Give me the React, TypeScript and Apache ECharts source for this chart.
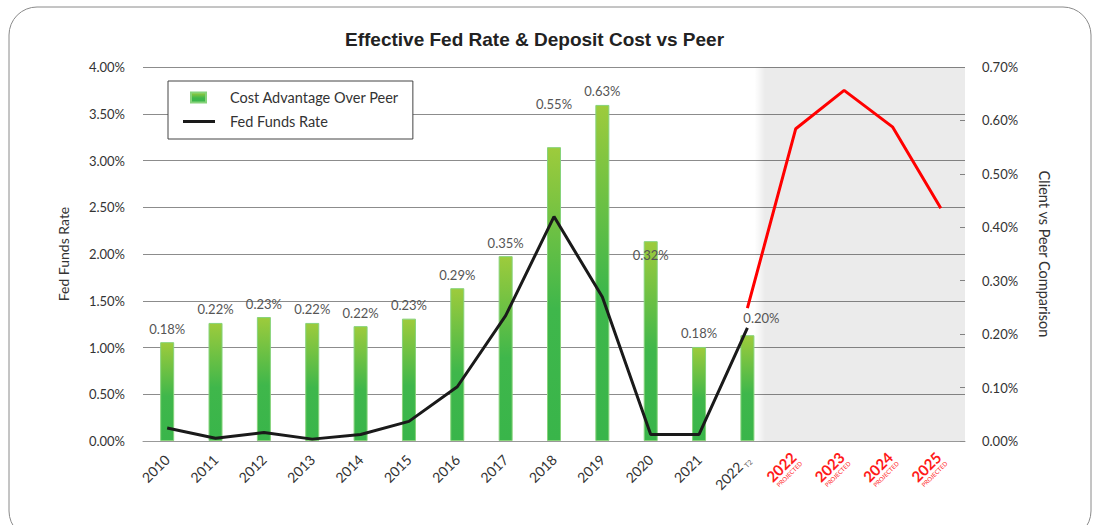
import React, { useEffect, useRef } from "react";
import * as echarts from "echarts";

const years = ["2010", "2011", "2012", "2013", "2014", "2015", "2016", "2017", "2018", "2019", "2020", "2021", "2022", "2022", "2023", "2024", "2025"];
const actualCount = 13;
const costAdvantage = [0.185, 0.221, 0.232, 0.221, 0.215, 0.229, 0.286, 0.346, 0.55, 0.629, 0.374, 0.176, 0.198, null, null, null, null];
const costLabels = ["0.18%", "0.22%", "0.23%", "0.22%", "0.22%", "0.23%", "0.29%", "0.35%", "0.55%", "0.63%", "0.32%", "0.18%", "0.20%"];
const fedFunds = [0.14, 0.03, 0.09, 0.02, 0.07, 0.21, 0.58, 1.34, 2.4, 1.54, 0.07, 0.07, 1.21, null, null, null, null];
const fedProjected = [null, null, null, null, null, null, null, null, null, null, null, null, 1.42, 3.34, 3.75, 3.36, 2.49];
const leftTicks = { min: 0, max: 4, interval: 0.5 };
const rightTicks = { min: 0, max: 0.7, interval: 0.1 };
const projectedStart = 12.65;

const FONT = "Lato";

export default function App() {
  const ref = useRef<HTMLDivElement>(null);
  useEffect(() => {
    if (!ref.current) return;
    const chart = echarts.init(ref.current, null, { renderer: "svg" });
    const labelOffsets: Record<number, number[]> = { 8: [0, -30], 10: [0, 27], 12: [14, -4] };
    const barGradient = new echarts.graphic.LinearGradient(0, 0, 0, 1, [
      { offset: 0, color: "#9dcb3c" },
      { offset: 0.55, color: "#3fb74b" },
      { offset: 1, color: "#39b54a" },
    ]);
    const barData = costAdvantage.map((v, i) => {
      if (v == null) return null;
      const item: any = { value: v };
      if (labelOffsets[i]) item.label = { offset: labelOffsets[i] };
      return item;
    });
    const option: any = {
      animation: false,
      backgroundColor: "#ffffff",
      title: {
        text: "Effective Fed Rate & Deposit Cost vs Peer",
        left: 340,
        top: 25,
        textStyle: { fontFamily: "Liberation Sans", fontSize: 19, fontWeight: "bold", color: "#222" },
      },
      graphic: [
        {
          type: "rect",
          silent: true,
          z: -10,
          shape: { x: 9, y: 7, width: 1082, height: 532, r: 28 },
          style: { fill: "none", stroke: "#8a8a8a", lineWidth: 1 },
        },
      ],
      legend: {
        orient: "vertical",
        left: 168,
        top: 81,
        padding: [9, 14, 10, 14],
        itemGap: 9,
        itemWidth: 42,
        itemHeight: 10,
        backgroundColor: "#ffffff",
        borderColor: "#444",
        borderWidth: 1,
        borderRadius: 0,
        textStyle: { fontFamily: FONT, fontSize: 14.5, color: "#333" },
        data: [
          { name: "Cost Advantage Over Peer", icon: "path://M0,0M42,10M8,0L23,0L23,10L8,10Z" },
          {
            name: "Fed Funds Rate",
            icon: "path://M0,0M42,10M0,3.5L32,3.5L32,6.5L0,6.5Z",
            itemStyle: { color: "#1a1a1a", borderWidth: 0 },
            lineStyle: { width: 0 },
          },
        ],
      },
      grid: { left: 143, right: 135, top: 67, bottom: 84 },
      xAxis: [
        {
          type: "category",
          data: years,
          boundaryGap: true,
          axisLine: { lineStyle: { color: "#999" } },
          axisTick: { show: false },
          axisLabel: {
            interval: 0,
            rotate: 45,
            margin: 16,
            fontFamily: FONT,
            formatter: (v: string, i: number) => {
              if (i === actualCount - 1) return "{n|" + v + "}{t|T2}";
              if (i >= actualCount) return "{py|" + v + "}\n{ps|PROJECTED}";
              return "{n|" + v + "}";
            },
            rich: {
              n: { fontFamily: FONT, fontSize: 14, color: "#333" },
              t: { fontFamily: FONT, fontSize: 7, color: "#666", padding: [10, 0, 0, 2] },
              py: { fontFamily: FONT, fontSize: 15, fontWeight: "bold", color: "#ff1a1a", lineHeight: 15 },
              ps: { fontFamily: FONT, fontSize: 6, color: "#ff1a1a", lineHeight: 7 },
            },
          },
        },
        { type: "value", min: 0, max: years.length, show: false },
      ],
      yAxis: [
        {
          type: "value",
          min: leftTicks.min,
          max: leftTicks.max,
          interval: leftTicks.interval,
          name: "Fed Funds Rate",
          nameLocation: "middle",
          nameGap: 73,
          nameRotate: 90,
          nameTextStyle: { fontFamily: FONT, fontSize: 14, color: "#333" },
          axisLine: { show: false },
          axisTick: { show: false },
          axisLabel: { fontFamily: FONT, fontSize: 13, color: "#333", margin: 18, formatter: (v: number) => v.toFixed(2) + "%" },
          splitLine: { show: true, lineStyle: { color: "#8c8c8c", width: 1 } },
        },
        {
          type: "value",
          position: "right",
          min: rightTicks.min,
          max: rightTicks.max,
          interval: rightTicks.interval,
          name: "Client vs Peer Comparison",
          nameLocation: "middle",
          nameGap: 72,
          nameRotate: -90,
          nameTextStyle: { fontFamily: FONT, fontSize: 14.5, color: "#333" },
          axisLine: { show: false },
          axisTick: { show: true, inside: true, length: 5, lineStyle: { color: "#8c8c8c" } },
          axisLabel: { fontFamily: FONT, fontSize: 13, color: "#333", margin: 17, formatter: (v: number) => v.toFixed(2) + "%" },
          splitLine: { show: false },
        },
      ],
      series: [
        {
          name: "projected-zone",
          type: "line",
          xAxisIndex: 1,
          yAxisIndex: 0,
          data: [[0, 0]],
          symbol: "none",
          lineStyle: { opacity: 0 },
          silent: true,
          markArea: {
            silent: true,
            itemStyle: {
              color: new echarts.graphic.LinearGradient(0, 0, 1, 0, [
                { offset: 0, color: "rgba(0,0,0,0)" },
                { offset: 0.05, color: "rgba(0,0,0,0.08)" },
                { offset: 1, color: "rgba(0,0,0,0.08)" },
              ]),
            },
            data: [[{ xAxis: projectedStart }, { xAxis: years.length }]],
          },
        },
        {
          name: "Cost Advantage Over Peer",
          type: "bar",
          yAxisIndex: 1,
          barWidth: 14,
          data: barData,
          itemStyle: { color: barGradient, borderColor: "#86d37a", borderWidth: 1 },
          label: {
            show: true,
            position: "top",
            distance: 7,
            fontFamily: FONT,
            fontSize: 13,
            color: "#555",
            formatter: (p: any) => costLabels[p.dataIndex],
          },
        },
        {
          name: "Fed Funds Rate",
          type: "line",
          yAxisIndex: 0,
          data: fedFunds,
          symbol: "none",
          lineStyle: { color: "#1a1a1a", width: 3 },
          itemStyle: { color: "#1a1a1a" },
          z: 5,
        },
        {
          name: "Fed Funds Projected",
          type: "line",
          yAxisIndex: 0,
          data: fedProjected,
          symbol: "none",
          lineStyle: { color: "#ff0000", width: 3 },
          itemStyle: { color: "#ff0000" },
          z: 5,
        },
      ],
    };
    chart.setOption(option);
    return () => chart.dispose();
  }, []);
  return (
    <div
      ref={ref}
      style={{ position: "absolute", left: 0, top: 0, width: 1100, height: 525 }}
    />
  );
}
